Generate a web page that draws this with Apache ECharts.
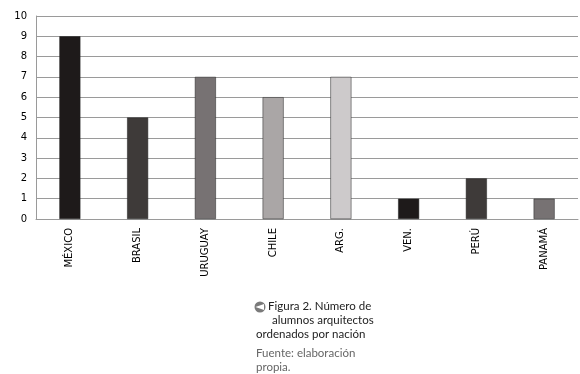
<!DOCTYPE html>
<html><head><meta charset="utf-8">
<script src="https://cdn.jsdelivr.net/npm/echarts@6/dist/echarts.min.js"></script>
<style>html,body{margin:0;padding:0;background:#fff}#c{width:580px;height:374px}</style>
</head><body><div id="c"></div>
<script>
const categories = ['MÉXICO','BRASIL','URUGUAY','CHILE','ARG.','VEN.','PERÚ','PANAMÁ'];
const values = [9,5,7,6,7,1,2,1];
const yTicks = [0,1,2,3,4,5,6,7,8,9,10];
const barColors = ['#1e1a1a','#3e3a39','#777273','#aaa6a6','#cdcacb','#1e1a1a','#3e3a39','#777273'];
const chart = echarts.init(document.getElementById('c'));
chart.setOption({
  animation:false,
  grid:{left:36,right:2,top:16,bottom:155},
  xAxis:{type:'category',data:categories,
    axisLine:{lineStyle:{color:'#9a9a9a',width:1}},axisTick:{show:false},
    axisLabel:{rotate:90,interval:0,color:'#000',fontFamily:'DejaVu Sans',fontSize:10,margin:9}},
  yAxis:{type:'value',min:yTicks[0],max:yTicks[yTicks.length-1],interval:1,
    axisLine:{show:true,lineStyle:{color:'#9a9a9a'}},axisTick:{show:false},
    axisLabel:{color:'#000',fontFamily:'DejaVu Sans',fontSize:10,margin:9},
    splitLine:{lineStyle:{color:'#9a9a9a',width:1}}},
  series:[{type:'bar',barWidth:21,
    data:values.map((v,i)=>({value:v,itemStyle:{color:barColors[i],borderColor:'#222',borderWidth:0.5}}))}],
  graphic:[
    {type:'circle',shape:{cx:260,cy:307,r:5.5},style:{fill:'#7a7a7a'}},
    {type:'polygon',shape:{points:[[255.5,307],[264,304],[264,310]]},style:{fill:'#fff'}},
    {type:'text',left:268,top:300,style:{text:'Figura 2. Número de',font:'11.5px Lato',fill:'#222'}},
    {type:'text',left:272,top:314,style:{text:'alumnos arquitectos',font:'11.5px Lato',fill:'#222'}},
    {type:'text',left:256,top:328,style:{text:'ordenados por nación',font:'11.5px Lato',fill:'#222'}},
    {type:'text',left:256,top:347,style:{text:'Fuente: elaboración',font:'11.5px Lato',fill:'#666'}},
    {type:'text',left:256,top:361,style:{text:'propia.',font:'11.5px Lato',fill:'#666'}}
  ]
});
</script></body></html>
